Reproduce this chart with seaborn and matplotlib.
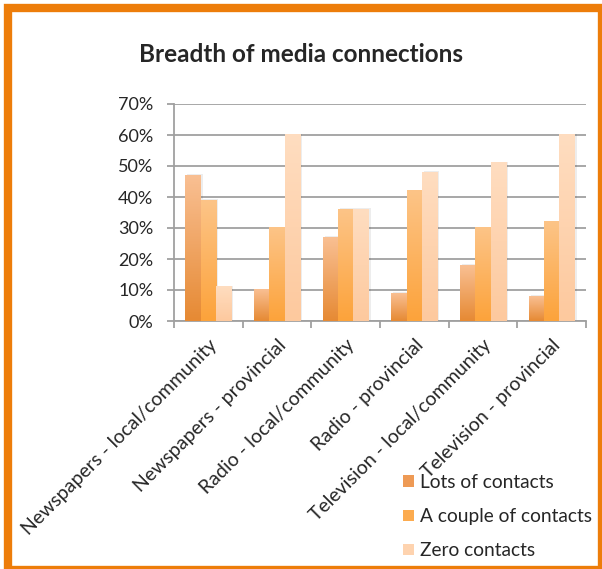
import numpy as np
import pandas as pd
import matplotlib
matplotlib.use("Agg")
import matplotlib.pyplot as plt
import seaborn as sns
from matplotlib.patches import Rectangle
from matplotlib.colors import LinearSegmentedColormap

categories = [
    "Newspapers - local/community",
    "Newspapers - provincial",
    "Radio - local/community",
    "Radio - provincial",
    "Television - local/community",
    "Television - provincial",
]
series = ["Lots of contacts", "A couple of contacts", "Zero contacts"]
lots = [47, 10, 27, 9, 18, 8]
couple = [39, 30, 36, 42, 30, 32]
zero = [11, 60, 36, 48, 51, 60]
y_ticks = [0, 10, 20, 30, 40, 50, 60, 70]

# (top colour, bottom colour) of each series' vertical gradient
gradients = {
    "Lots of contacts": ("#F9BF92", "#E68A34"),
    "A couple of contacts": ("#FDC487", "#FCA33B"),
    "Zero contacts": ("#FFDDC0", "#FDC99E"),
}
legend_colors = {"Lots of contacts": "#EE9A55", "A couple of contacts": "#FCAB4F",
                 "Zero contacts": "#FED3AF"}

df = pd.DataFrame({
    "category": np.repeat(categories, 3),
    "series": series * len(categories),
    "value": np.ravel(np.column_stack([lots, couple, zero])),
})

sns.set_theme(style="white")
plt.rcParams["font.family"] = ["Lato", "DejaVu Sans"]
FS = 13

fig = plt.figure(figsize=(6.02, 5.69), dpi=100)
ax = fig.add_axes([174 / 602, 1 - 321 / 569, 412 / 602, 217 / 569])

sns.barplot(data=df, x="category", y="value", hue="series", order=categories,
            hue_order=series, palette=legend_colors, width=0.67, ax=ax,
            legend=False, saturation=1)

# Replace flat fills with vertical gradients and a soft drop shadow
bars = list(ax.patches)
for i, bar in enumerate(bars):
    s = series[i // len(categories)]
    top, bottom = gradients[s]
    cmap = LinearSegmentedColormap.from_list(s, [bottom, top])
    x, w, h = bar.get_x(), bar.get_width(), bar.get_height()
    grad = np.linspace(1, 0, 64).reshape(-1, 1)
    ax.imshow(grad, cmap=cmap, extent=[x, x + w, 0, h], aspect="auto",
              zorder=3, interpolation="bicubic")
    ax.add_patch(Rectangle((x + 0.03, 0), w, h + 0.4, facecolor="#000000",
                           alpha=0.07, zorder=2.5, linewidth=0))
    bar.set_visible(False)

ax.set_xlim(-0.5, len(categories) - 0.5)
ax.set_ylim(0, 70)
ax.set_yticks(y_ticks)
ax.set_yticklabels([f"{t}%" for t in y_ticks], fontsize=FS)
ax.yaxis.grid(True, color="#A0A0A0", linewidth=1.3, zorder=1)
ax.set_axisbelow(True)
for sp in ["top", "right"]:
    ax.spines[sp].set_visible(False)
for sp in ["left", "bottom"]:
    ax.spines[sp].set_color("#A0A0A0")
    ax.spines[sp].set_linewidth(1.3)
ax.tick_params(axis="y", length=5, width=1.3, color="#A0A0A0", pad=10, left=True)

# Category boundary ticks on the x-axis, labels at category centres
ax.set_xticks(np.arange(len(categories) + 1) - 0.5)
ax.set_xticklabels([])
ax.set_xticks(np.arange(len(categories)), minor=True)
ax.set_xticklabels(categories, minor=True, rotation=45, ha="right",
                   rotation_mode="anchor", fontsize=FS + 1)
ax.tick_params(axis="x", which="major", length=5, width=1.3, color="#A0A0A0",
               direction="out", bottom=True)
ax.tick_params(axis="x", which="minor", length=0, pad=11)
ax.set_xlabel("")
ax.set_ylabel("")

fig.text(0.5, 1 - 55 / 569, "Breadth of media connections", ha="center",
         va="center", fontsize=17.5, fontweight="bold")

handles = [Rectangle((0, 0), 1, 1, facecolor=legend_colors[s], edgecolor="none")
           for s in series]
fig.legend(handles, series, loc="upper left", bbox_to_anchor=(403 / 602, 1 - 474 / 569),
           frameon=False, fontsize=FS + 0.8, handlelength=0.55, handleheight=0.55,
           handletextpad=0.35, labelspacing=0.9, borderaxespad=0, borderpad=0)

fig.patches.append(Rectangle((8 / 602, 1 - 570 / 569), 594 / 602, 562 / 569,
                             transform=fig.transFigure, fill=False,
                             edgecolor="#ED7D0A", linewidth=6, zorder=10))

fig.savefig("out.png", dpi=100)
